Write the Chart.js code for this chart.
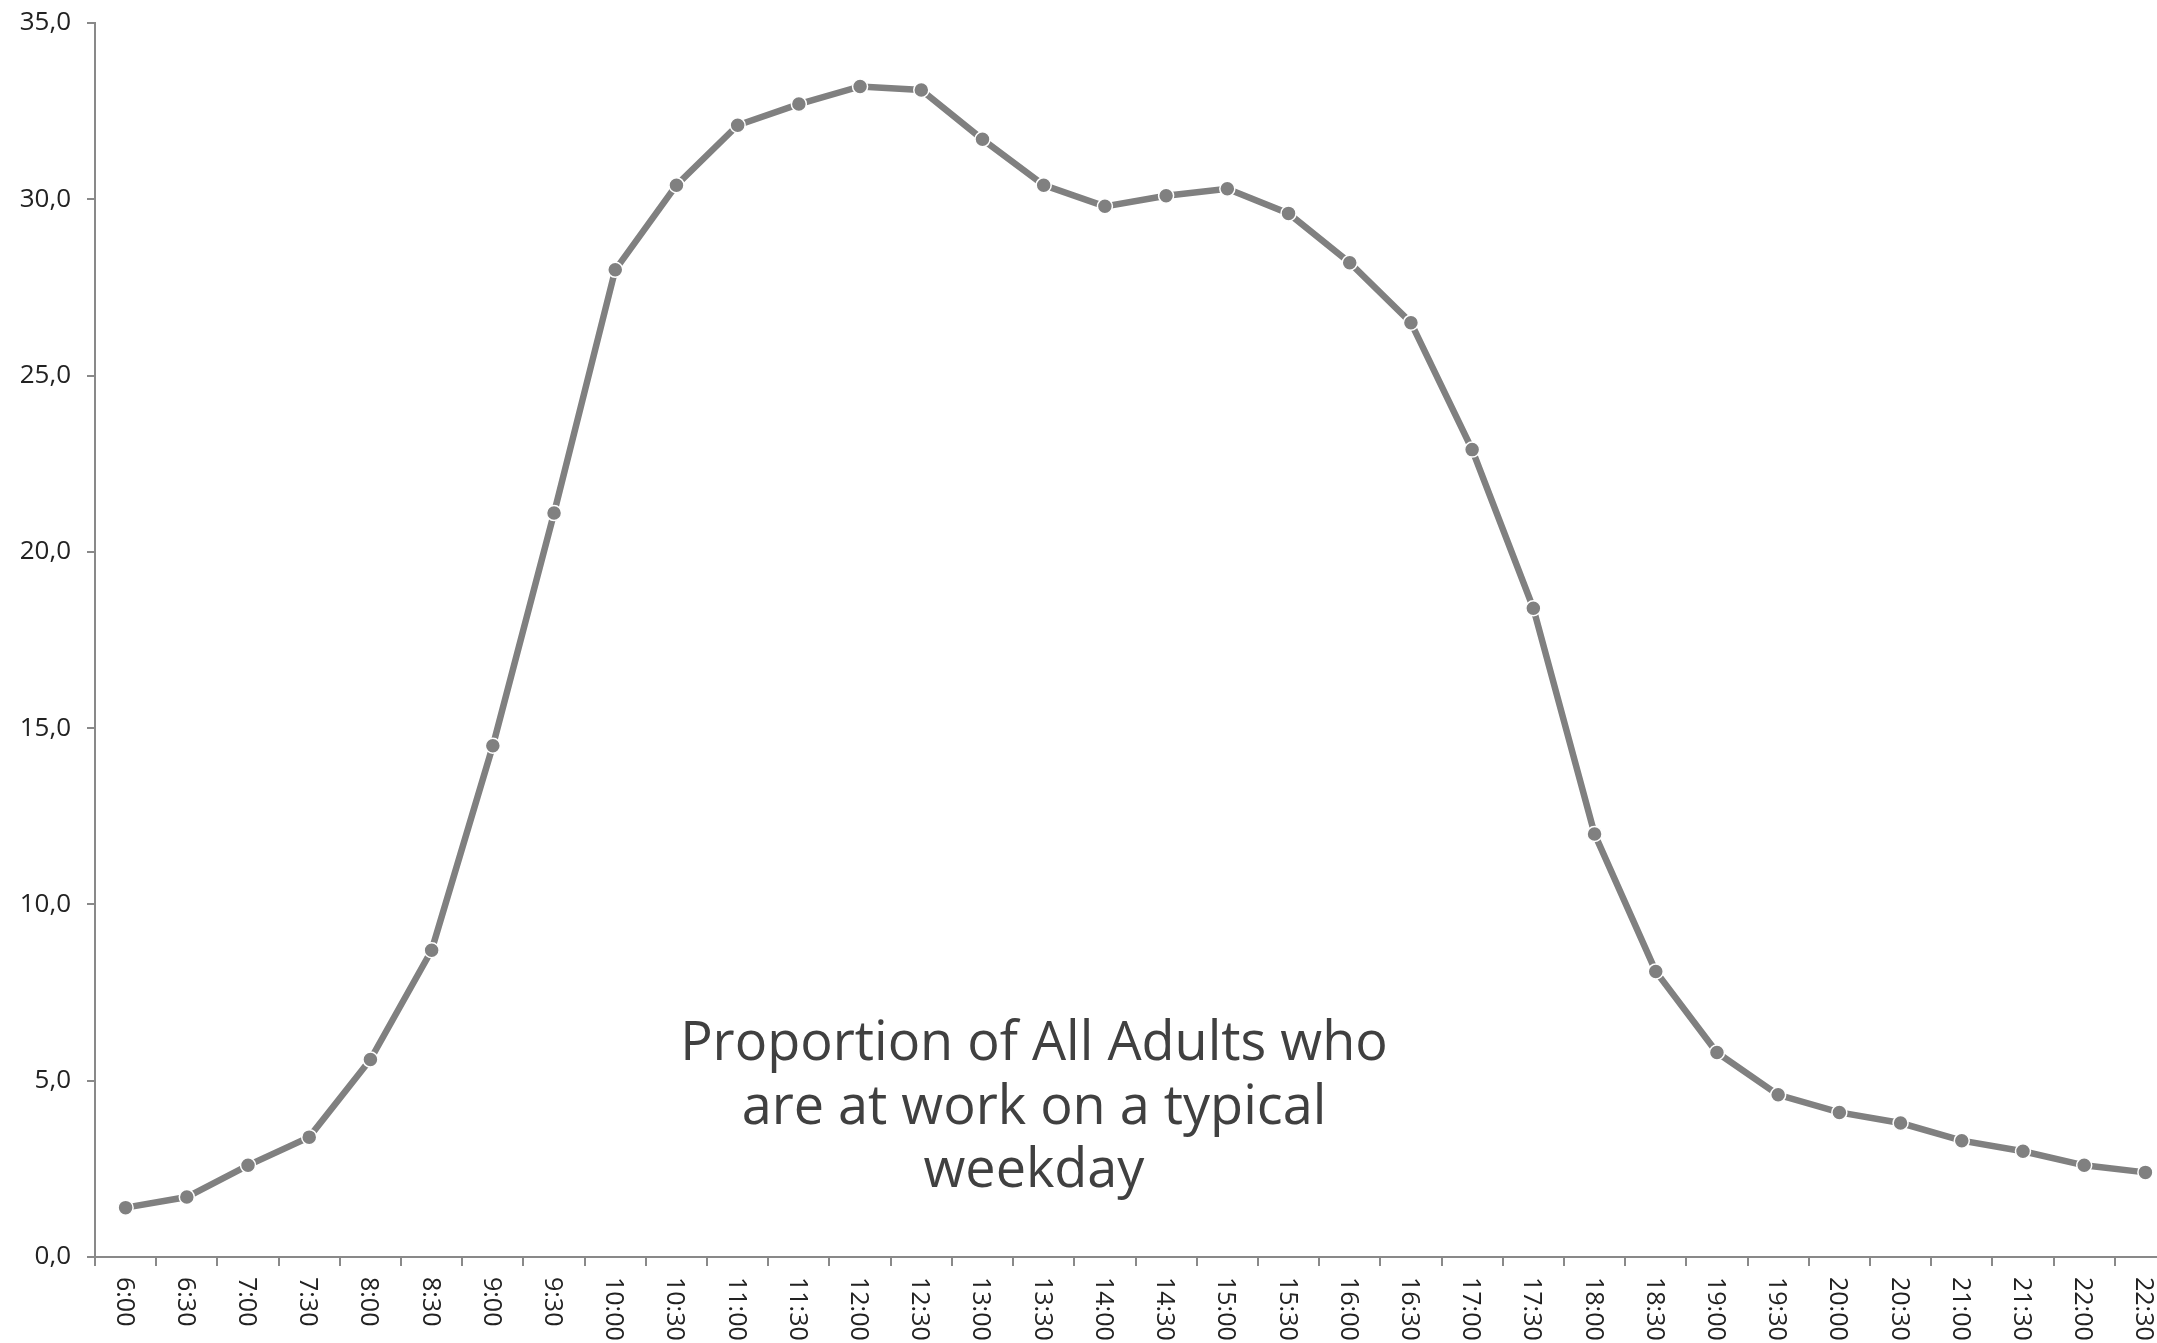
<!DOCTYPE html>
<html>
<head>
<meta charset="utf-8">
<script src="https://cdn.jsdelivr.net/npm/chart.js@4/dist/chart.umd.min.js"></script>
<style>
  html, body { margin: 0; padding: 0; background: #ffffff; overflow: hidden; }
  #wrap { width: 2200px; height: 1343px; }
</style>
</head>
<body>
<div id="wrap"><canvas id="chart" width="2200" height="1343"></canvas></div>
<script>
// Half-hour slots across the day
const timeLabels = [
  '6:00', '6:30', '7:00', '7:30', '8:00', '8:30', '9:00', '9:30',
  '10:00', '10:30', '11:00', '11:30', '12:00', '12:30', '13:00', '13:30',
  '14:00', '14:30', '15:00', '15:30', '16:00', '16:30', '17:00', '17:30',
  '18:00', '18:30', '19:00', '19:30', '20:00', '20:30', '21:00', '21:30',
  '22:00', '22:30'
];

// Share of all adults at work (%)
const atWorkShare = [
  1.4, 1.7, 2.6, 3.4, 5.6, 8.7, 14.5, 21.1,
  28.0, 30.4, 32.1, 32.7, 33.2, 33.1, 31.7, 30.4,
  29.8, 30.1, 30.3, 29.6, 28.2, 26.5, 22.9, 18.4,
  12.0, 8.1, 5.8, 4.6, 4.1, 3.8, 3.3, 3.0,
  2.6, 2.4
];

// Value axis ticks
const yTickValues = [0, 5, 10, 15, 20, 25, 30, 35];

const noteLines = [
  'Proportion of All Adults who',
  'are at work on a typical',
  'weekday'
];

const FONT = '"Open Sans", "Liberation Sans", sans-serif';
const AXIS_GREY = '#898989';

// Category labels drawn rotated clockwise (reading top to bottom)
const rotatedXLabels = {
  id: 'rotatedXLabels',
  afterDraw(chart) {
    const xs = chart.scales.x;
    const ctx = chart.ctx;
    ctx.save();
    ctx.font = '25px ' + FONT;
    ctx.fillStyle = '#222222';
    ctx.textAlign = 'left';
    ctx.textBaseline = 'alphabetic';
    timeLabels.forEach((lab, i) => {
      const x = xs.getPixelForValue(i);
      ctx.save();
      ctx.translate(x, xs.top + 20);
      ctx.rotate(Math.PI / 2);
      ctx.fillText(lab, 0, 9);
      ctx.restore();
    });
    ctx.restore();
  }
};

// Caption inside the plot area
const captionNote = {
  id: 'captionNote',
  afterDraw(chart) {
    const a = chart.chartArea;
    const ctx = chart.ctx;
    const cx = a.left + (a.right - a.left) * 0.4512;
    const baseTop = a.top + (a.bottom - a.top) * 0.8404;
    ctx.save();
    ctx.font = '54px ' + FONT;
    ctx.fillStyle = '#404040';
    ctx.textAlign = 'center';
    ctx.textBaseline = 'alphabetic';
    noteLines.forEach((line, i) => {
      ctx.fillText(line, cx, baseTop + i * 63.5);
    });
    ctx.restore();
  }
};

new Chart(document.getElementById('chart'), {
  type: 'line',
  data: {
    labels: timeLabels,
    datasets: [{
      data: atWorkShare,
      borderColor: '#808080',
      borderWidth: 6.5,
      tension: 0,
      fill: false,
      pointRadius: 7.5,
      pointBackgroundColor: '#808080',
      pointBorderColor: '#ffffff',
      pointBorderWidth: 1.5
    }]
  },
  options: {
    responsive: false,
    animation: false,
    devicePixelRatio: 1,
    layout: { padding: { top: 23, right: 24, bottom: 0, left: 0 } },
    plugins: {
      legend: { display: false },
      tooltip: { enabled: false },
      title: { display: false }
    },
    scales: {
      x: {
        type: 'category',
        offset: true,
        grid: {
          offset: true,
          drawOnChartArea: false,
          drawTicks: true,
          tickLength: 9,
          color: AXIS_GREY,
          lineWidth: 2
        },
        border: { display: true, color: AXIS_GREY, width: 2 },
        ticks: { display: false, autoSkip: false },
        afterFit(scale) { scale.height = 86; }
      },
      y: {
        min: 0,
        max: 35,
        afterBuildTicks(scale) {
          scale.ticks = yTickValues.map(v => ({ value: v }));
        },
        ticks: {
          font: { family: FONT, size: 26 },
          color: '#222222',
          padding: 16,
          callback: v => Number(v).toFixed(1).replace('.', ',')
        },
        grid: {
          drawOnChartArea: false,
          drawTicks: true,
          tickLength: 8,
          color: AXIS_GREY,
          lineWidth: 2
        },
        border: { display: true, color: AXIS_GREY, width: 2 },
        afterFit(scale) {
          scale.width = 95;
          scale.paddingTop = 12;
          scale.paddingBottom = 12;
        }
      }
    }
  },
  plugins: [rotatedXLabels, captionNote]
});
</script>
</body>
</html>
